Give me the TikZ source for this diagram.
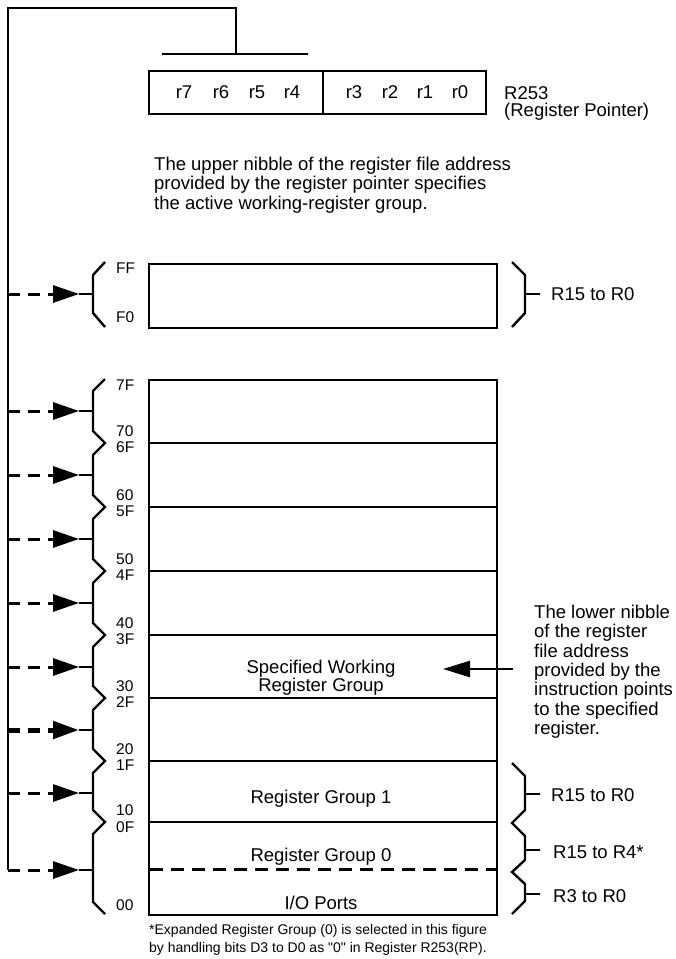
\documentclass[tikz,border=0pt]{standalone}
\usepackage{fontspec}
\setmainfont{Liberation Sans}[Ligatures=TeXOff]
\usetikzlibrary{arrows.meta}
\begin{document}
\begin{tikzpicture}[x=1pt,y=-1pt,line width=2.4pt,line join=miter,
  txt/.style={font=\fontsize{18.5}{19.3}\selectfont,inner sep=0pt},
  addr/.style={font=\fontsize{15.5}{15.5}\selectfont,inner sep=0pt,anchor=west},
  bus/.style={line width=3pt,dash pattern=on 12pt off 8pt,-{Triangle[length=26pt,width=17pt]}},
  busthick/.style={bus,line width=5pt},
  ptr/.style={line width=2.4pt,-{Triangle[length=27pt,width=16pt]}},
  sep/.style={line width=2.4pt},
  dsep/.style={line width=3pt,dash pattern=on 13pt off 8pt}]
\useasboundingbox (0,0) rectangle (676,959);
% register pointer
\node[draw,sep,minimum width=337pt,minimum height=43pt,inner sep=0pt,anchor=north west] (rp) at (148,70) {};
\draw[sep] (323,70) -- (323,113);
\foreach \t/\x in {r7/184,r6/221,r5/257,r4/292,r3/354,r2/390,r1/425,r0/460}
  \node[txt] (l\t) at (\x,92) {\t};
\node[txt,anchor=north west,align=left,font=\fontsize{18.5}{17.5}\selectfont] (r253) at (503,85) {R253\\(Register Pointer)};
% bus
\coordinate (bar) at (236,54);
\coordinate (topl) at (8,8);
\coordinate (topr) at (236,8);
\coordinate (busend) at (8,870);
\draw[sep,line width=2.6pt] (162,54) -- (308,54);
\draw[sep,line width=2.6pt] (bar) -- (topr) -- (topl) -- (busend);
% upper paragraph
\node[txt,anchor=north west,align=left] (upper) at (153,156)
  {The upper nibble of the register file address\\provided by the register pointer specifies\\the active working-register group.};
% FF block
\node[draw,sep,minimum width=348pt,minimum height=64pt,inner sep=0pt,anchor=north west] (ffbox) at (148,263) {};
\draw[sep] (105,262) -- (93,275) -- (93,313) -- (105,327);
\draw[sep] (512,262) -- (525,275) -- (525,313) -- (512,327);
\draw[sep] (525,294) -- (540,294);
\node[txt,anchor=west] (rff) at (550,294) {R15 to R0};
\node[addr] at (115,268) {FF};
\node[addr] at (115,317) {F0};
% main block
\node[draw,sep,minimum width=348pt,minimum height=535pt,inner sep=0pt,anchor=north west] (mainbox) at (148,379) {};
\foreach \d in {443,507,571,635,698,761,822}
  \draw[sep] (148,\d) -- (496,\d);
\draw[dsep] (150,869) -- (496,869);
% left brace
\draw[sep] (105,379) -- (93,391) -- (93,431) -- (105,443) -- (93,455) -- (93,495) -- (105,507) -- (93,519) -- (93,559) -- (105,571) -- (93,583) -- (93,623) -- (105,635) -- (93,647) -- (93,686) -- (105,698) -- (93,710) -- (93,749) -- (105,761) -- (93,773) -- (93,810) -- (105,822) -- (93,834) -- (93,902) -- (105,914);
% arrows from bus
\foreach \n/\y in {a/294,b/411,c/475,d/539,e/603,f/667,g/730,h/793,i/870} {
  \coordinate (bus\n) at (8,\y);
  \coordinate (tip\n) at (79,\y);
  \draw[sep] (tip\n) -- (93,\y);
}
\foreach \n in {a,b,c,d,e,f,h,i}
  \draw[bus] (bus\n) -- (tip\n);
\draw[busthick] (busg) -- (tipg);
% address labels
\foreach \t/\y in {7F/385,70/431,6F/447,60/495,5F/511,50/559,4F/575,40/623,3F/639,30/686,2F/702,20/749,1F/765,10/810,0F/827,00/905}
  \node[addr] at (115,\y) {\t};
% texts in box
\node[txt,align=center,font=\fontsize{18.5}{16}\selectfont] (swg) at (321,678) {Specified Working\\Register Group};
\node[txt] (rg1) at (321,799) {Register Group 1};
\node[txt] (rg0) at (321,857) {Register Group 0};
\node[txt] (io) at (321,903) {I/O Ports};
% right brace bottom
\draw[sep] (512,763) -- (525,776) -- (525,810) -- (512,823) -- (525,836) -- (525,860) -- (512,872) -- (525,884) -- (525,901) -- (512,914);
\draw[sep] (525,794) -- (540,794);
\draw[sep] (525,850) -- (540,850);
\draw[sep] (525,894) -- (540,894);
\node[txt,anchor=west] (rr1) at (550,795) {R15 to R0};
\node[txt,anchor=west] (rr2) at (552,852) {R15 to R4*};
\node[txt,anchor=west] (rr3) at (552,896) {R3 to R0};
% lower nibble text and arrow
\node[txt,anchor=north west,align=left] (lower) at (533,604)
  {The lower nibble\\of the register\\file address\\provided by the\\instruction points\\to the specified\\register.};
\coordinate (ptrstart) at (513,669);
\coordinate (ptrend) at (443,669);
\draw[ptr] (ptrstart) -- (ptrend);
% footnote
\node[anchor=north west,inner sep=0pt,align=left,font=\fontsize{14}{18}\selectfont] (foot) at (148,923)
  {*Expanded Register Group (0) is selected in this figure\\by handling bits D3 to D0 as "0" in Register R253(RP).};
\end{tikzpicture}
\end{document}
